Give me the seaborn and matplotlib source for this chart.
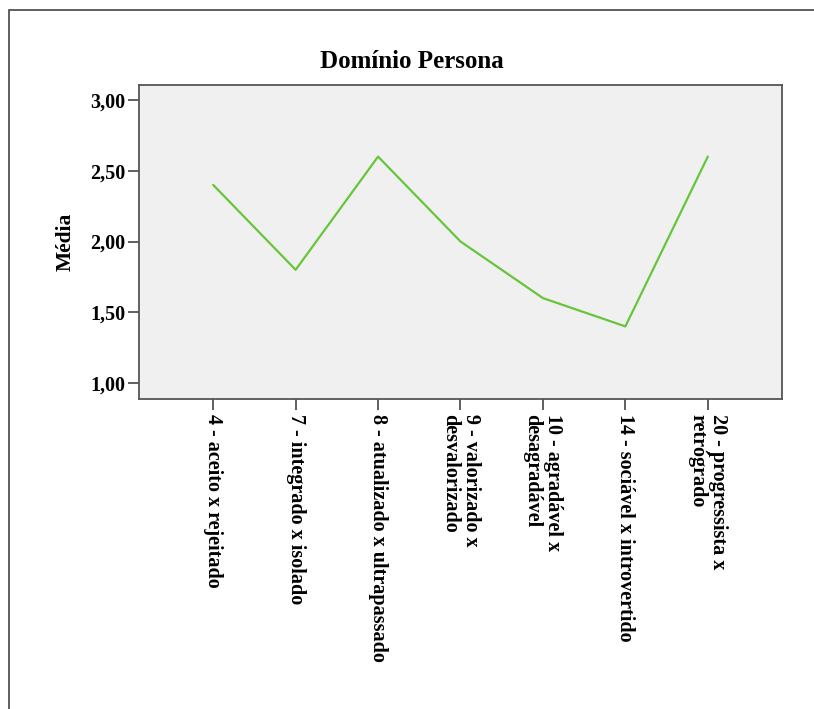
import matplotlib
matplotlib.use("Agg")
import matplotlib.pyplot as plt
import seaborn as sns
import pandas as pd
from matplotlib.patches import Rectangle

categories = [
    "4 - aceito x rejeitado",
    "7 - integrado x isolado",
    "8 - atualizado x ultrapassado",
    "9 - valorizado x\ndesvalorizado",
    "10 - agradável x\ndesagradável",
    "14 - sociável x introvertido",
    "20 - progressista x\nretrógrado",
]
means = [2.4, 1.8, 2.6, 2.0, 1.6, 1.4, 2.6]
y_ticks = [1.0, 1.5, 2.0, 2.5, 3.0]
y_tick_labels = ["1,00", "1,50", "2,00", "2,50", "3,00"]

sns.set_theme(style="white")
plt.rcParams["font.family"] = ["Liberation Serif", "DejaVu Serif"]
plt.rcParams["font.weight"] = "bold"
plt.rcParams["text.color"] = "black"
plt.rcParams["axes.labelcolor"] = "black"
plt.rcParams["xtick.color"] = "black"
plt.rcParams["ytick.color"] = "black"

W, H = 814, 709
fig = plt.figure(figsize=(W / 100, H / 100), dpi=100)
fig.patch.set_facecolor("white")

# outer frame (left/top visible)
fig.patches.append(Rectangle((9 / W, -0.2), 2.0, (H - 10) / H + 0.2,
                             transform=fig.transFigure, fill=False,
                             edgecolor="#444444", linewidth=1.2))

ax = fig.add_axes([139 / W, (H - 399) / H, (782 - 139) / W, (399 - 85) / H])
ax.set_facecolor("#F0F0F0")

df = pd.DataFrame({"idx": range(len(categories)), "Média": means})
sns.lineplot(data=df, x="idx", y="Média", ax=ax, color="#66C63A", linewidth=1.6)

ax.set_xlim(-0.9, len(categories) - 0.1)
ax.set_ylim(0.887, 3.106)
ax.set_yticks(y_ticks)
ax.set_yticklabels(y_tick_labels, fontsize=14.5, fontweight="bold")
ax.set_xticks(range(len(categories)))
ax.set_xticklabels(categories, fontsize=14.5, fontweight="bold")
for lab in ax.get_xticklabels():
    lab.set_rotation(270)
    lab.set_rotation_mode("anchor")
    lab.set_horizontalalignment("left")
    lab.set_verticalalignment("center")
    lab.set_linespacing(1.05)
ax.tick_params(axis="both", which="both", direction="out", length=8,
               width=1.2, color="#444444", labelcolor="black", pad=2,
               bottom=True, left=True)
ax.tick_params(axis="x", pad=3)
for s in ax.spines.values():
    s.set_color("#555555")
    s.set_linewidth(1.3)
    s.set_visible(True)

ax.set_xlabel("")
ax.set_ylabel("Média", fontsize=15.5, fontweight="bold", labelpad=10)

fig.text(412 / W, (H - 68) / H, "Domínio Persona", fontsize=18,
         fontweight="bold", ha="center", va="baseline", color="black")

fig.savefig("out.png", dpi=100, facecolor="white")
